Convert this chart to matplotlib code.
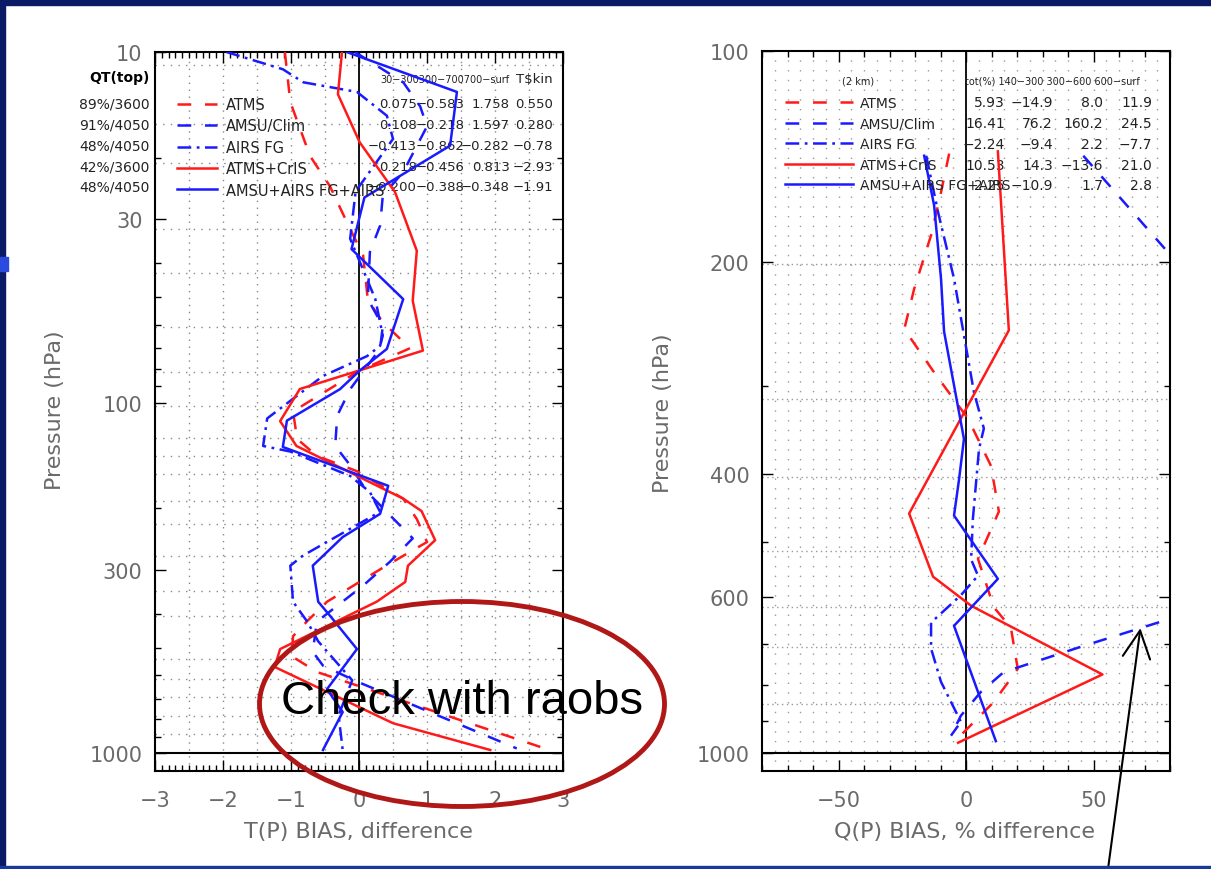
import matplotlib
matplotlib.use('Agg')
import numpy as np
import matplotlib.pyplot as plt
from matplotlib.patches import Ellipse, Rectangle
from matplotlib.ticker import MultipleLocator, LogLocator, NullFormatter

plt.rcParams['font.family'] = ['DejaVu Sans']

# ---------------- data ----------------
names = ['ATMS', 'AMSU/Clim', 'AIRS FG', 'ATMS+CrIS', 'AMSU+AIRS FG+AIRS']

# temperature bias profiles (K), pressure in hPa
t_atms_p = [10, 13.9, 19.8, 24.1, 32, 38, 51, 59, 70, 81, 106, 127, 142, 157, 188, 215, 250, 296, 370, 420, 464, 529, 587, 980]
t_atms_v = [-1.09, -1.01, -0.72, -0.43, -0.13, 0.06, 0.13, 0.35, 0.75, 0.01, -0.97, -0.91, -0.62, -0.03, 0.65, 0.85, 1.0, 0.35, -0.47, -0.76, -0.97, -0.99, -0.62, 2.8]

t_amsu_p = [10, 12.2, 14.3, 16.3, 22.0, 25.7, 31.3, 37.2, 50.7, 60.5, 70.2, 91.6, 109, 133, 151, 180, 244, 284, 333, 380, 422, 514, 563, 625, 970]
t_amsu_v = [-0.06, 0.65, 0.90, 1.0, 0.65, 0.35, 0.31, 0.16, 0.13, 0.35, 0.31, -0.13, -0.32, -0.35, -0.13, 0.12, 0.79, 0.46, 0.06, -0.32, -0.62, -0.68, -0.53, -0.03, 2.32]

t_airs_p = [10, 11.2, 12.2, 13.0, 15.2, 17.7, 25, 34.1, 50.7, 64.4, 68.9, 73.7, 84, 111, 133, 138, 162, 180, 205, 273, 292, 370, 422, 480, 620, 780, 980]
t_airs_v = [-1.95, -1.12, -0.82, -0.03, 0.41, 0.5, -0.05, -0.13, 0.24, 0.35, 0.31, 0.12, -0.53, -1.35, -1.41, -1.01, -0.13, 0.16, 0.31, -0.82, -1.01, -0.97, -0.76, -0.6, -0.1, -0.3, -0.24]

t_cris_p = [10, 13.2, 18.1, 25.1, 36.9, 51.2, 71.1, 91.5, 113, 133, 188, 204, 247, 292, 325, 370, 505, 568, 822, 980]
t_cris_v = [-0.25, -0.31, 0.01, 0.53, 0.85, 0.79, 0.94, -0.87, -1.16, -0.92, 0.65, 0.92, 1.12, 0.72, 0.68, 0.26, -1.16, -1.24, 0.5, 1.93]

t_all_p = [10, 13.0, 18.5, 26, 36.5, 50.7, 70.3, 81.1, 91.6, 112.6, 133.9, 172.8, 207.8, 242, 292, 370, 405, 505, 657, 764, 980]
t_all_v = [-0.18, 1.44, 1.34, 0.08, -0.11, 0.65, 0.41, 0.01, -0.28, -1.06, -1.12, 0.43, 0.31, -0.24, -0.68, -0.60, -0.43, -0.03, -0.47, -0.24, -0.53]

# moisture bias profiles (%), pressure in hPa
q_atms_p = [140, 159, 183, 218, 249, 287, 334, 390, 453, 529, 620, 663, 759, 846, 965]
q_atms_v = [-6.6, -9.8, -13.7, -20.3, -24.2, -12.5, 0.8, 9.8, 12.9, 4.7, 10.9, 17.6, 20.3, 10.9, -4.7]

q_amsu_p = [141, 195, 300, 420, 560, 644, 664, 706, 767, 818, 885, 945]
q_amsu_v = [46, 80, 130, 170, 140, 80, 68.4, 45, 14.8, 5.9, -2, -5.9]

q_airs_p = [141, 170, 211, 306, 345, 369, 464, 530, 559, 596, 652, 710, 792, 903, 945]
q_airs_v = [-15.6, -10.9, -4.7, 3.1, 7, 5.1, 2.7, 2, 4.7, -2, -13.7, -13.7, -9.8, -2, -5.9]

q_cris_p = [139, 250, 456, 561, 617, 773, 967]
q_cris_v = [12.5, 16.8, -22.3, -12.9, 2, 53.5, -3.1]

q_all_p = [141, 166, 211, 251, 357, 407, 459, 565, 659, 962]
q_all_v = [-16.4, -12.5, -9.8, -8.6, -0.8, -2.7, -4.7, 12.5, -4.7, 11.7]

# statistics tables
t_qt = ['89%/3600', '91%/4050', '48%/4050', '42%/3600', '48%/4050']
t_30_300 = ['0.075', '0.108', '\u22120.413', '0.218', '\u22120.200']
t_300_700 = ['\u22120.583', '\u22120.218', '\u22120.862', '\u22120.456', '\u22120.388']
t_700_surf = ['1.758', '1.597', '\u22120.282', '0.813', '\u22120.348']
t_tskin = ['0.550', '0.280', '\u22120.78', '\u22122.93', '\u22121.91']

q_tot = ['5.93', '16.41', '\u22122.24', '10.53', '2.25']
q_140_300 = ['\u221214.9', '76.2', '\u22129.4', '14.3', '\u221210.9']
q_300_600 = ['8.0', '160.2', '2.2', '\u221213.6', '1.7']
q_600_surf = ['11.9', '24.5', '\u22127.7', '21.0', '2.8']

# ---------------- styles ----------------
colors = ['#ff1a1a', '#1a1aff', '#1a1aff', '#ff1a1a', '#1a1aff']
styles = [(0, (5.5, 5.5)), (0, (5.5, 5.5)), (0, (5.5, 2.2, 1.1, 2.2)), '-', '-']
LW = 1.8
GREY = '#6a6a6a'
INK = '#222222'

W, H = 1211, 870


def box(x0, x1, y0, y1):
    return [x0 / W, 1 - y1 / H, (x1 - x0) / W, (y1 - y0) / H]


fig = plt.figure(figsize=(12.11, 8.70), dpi=100)
fig.patch.set_facecolor('white')

# slide frame
fig.patches.append(Rectangle((0, 1 - 6 / H), 1, 6 / H, transform=fig.transFigure, color='#0b1a66', zorder=0))
fig.patches.append(Rectangle((0, 0), 5 / W, 1, transform=fig.transFigure, color='#0b1a66', zorder=0))
fig.patches.append(Rectangle((0, 1 - 272 / H), 8 / W, 14 / H, transform=fig.transFigure, color='#2a4be0', zorder=0))
fig.patches.append(Rectangle((0, 0), 1, 3 / H, transform=fig.transFigure, color='#1a3a9a', zorder=0))

ax1 = fig.add_axes(box(155, 563, 53, 772))
ax2 = fig.add_axes(box(762, 1170, 52, 772))

for ax in (ax1, ax2):
    ax.set_yscale('log')
    for s in ax.spines.values():
        s.set_linewidth(1.5)
    ax.tick_params(which='both', direction='in', top=True, right=True, labelsize=15,
                   labelcolor=GREY, width=1)
    ax.tick_params(which='major', length=8)
    ax.tick_params(which='minor', length=4)
    ax.tick_params(axis='x', pad=14)
    ax.tick_params(axis='y', pad=9)
    ax.axvline(0, color='k', lw=1.3, zorder=3)
    ax.axhline(1000, color='k', lw=1.5, zorder=3)

# ---- left panel: temperature ----
ax1.set_xlim(-3, 3)
ax1.set_ylim(1125, 10)
ax1.set_yticks([10, 30, 100, 300, 1000])
ax1.set_yticklabels(['10', '30', '100', '300', '1000'])
ax1.yaxis.set_minor_locator(LogLocator(base=10, subs=np.arange(2, 10)))
ax1.yaxis.set_minor_formatter(NullFormatter())
ax1.set_xticks(np.arange(-3, 4, 1))
ax1.xaxis.set_minor_locator(MultipleLocator(0.1))

for xv in np.arange(-2.5, 2.51, 0.5):
    if xv != 0:
        ax1.axvline(xv, color='#888888', lw=1.0, ls=(0, (1, 4)), zorder=1)
for pl in [10.9, 16, 20.7, 31.9, 42.6, 60.7, 82, 102.6, 126, 142.5, 160, 191, 222, 274, 345, 407, 540, 615, 692, 785, 883]:
    ax1.axhline(pl, color='#888888', lw=1.0, ls=(0, (1, 4.5)), zorder=1)

t_series = [(t_atms_v, t_atms_p), (t_amsu_v, t_amsu_p), (t_airs_v, t_airs_p),
            (t_cris_v, t_cris_p), (t_all_v, t_all_p)]
handles = []
for (v, p), c, ls, nm in zip(t_series, colors, styles, names):
    h, = ax1.plot(v, p, color=c, ls=ls, lw=LW, label=nm, zorder=4)
    handles.append(h)

leg = ax1.legend(handles=handles, loc='upper left', bbox_to_anchor=((177 - 155) / 408, (772 - 97) / 720),
                 frameon=False, fontsize=10.5, handlelength=2.74, handletextpad=0.62,
                 labelspacing=0.44, borderpad=0, borderaxespad=0)
for t in leg.get_texts():
    t.set_color(INK)

rows_l = [(772 - y) / 720 for y in (104, 125, 146, 167, 187)]
cols_l = [(x - 155) / 408 for x in (417, 465, 510, 553)]
ax1.text((380 - 155) / 408, (772 - 79) / 720, '30\u2212300300\u2212700700\u2212surf',
         fontsize=7, transform=ax1.transAxes, va='center', ha='left', color=INK)
ax1.text(cols_l[3], (772 - 79) / 720, 'T\\$kin', fontsize=9.5,
         transform=ax1.transAxes, va='center', ha='right', color=INK)
ax1.text(-0.012, (772 - 77) / 720, 'QT(top)', fontsize=10, fontweight='bold',
         transform=ax1.transAxes, va='center', ha='right')
for i in range(5):
    ax1.text(-0.012, rows_l[i], t_qt[i], fontsize=10, transform=ax1.transAxes,
             va='center', ha='right', color=INK)
    for j, col in enumerate([t_30_300, t_300_700, t_700_surf, t_tskin]):
        ax1.text(cols_l[j], rows_l[i], col[i], fontsize=9.5, transform=ax1.transAxes,
                 va='center', ha='right', color=INK)

# ---- right panel: moisture ----
ax2.set_xlim(-80, 80)
ax2.set_ylim(1061, 100)
ax2.set_yticks([100, 200, 400, 600, 1000])
ax2.set_yticklabels(['100', '200', '400', '600', '1000'])
ax2.yaxis.set_minor_locator(LogLocator(base=10, subs=np.arange(2, 10)))
ax2.yaxis.set_minor_formatter(NullFormatter())
ax2.set_xticks([-50, 0, 50])
ax2.xaxis.set_minor_locator(MultipleLocator(10))

for xv in np.arange(-75, 76, 5):
    if xv != 0:
        ax2.axvline(xv, color='#999999', lw=1.0, ls=(0, (1, 6)), zorder=1)
for pl in [201, 313, 405, 515, 619, 706, 851]:
    ax2.axhline(pl, color='#999999', lw=1.0, ls=(0, (1, 2.5)), zorder=1)

q_series = [(q_atms_v, q_atms_p), (q_amsu_v, q_amsu_p), (q_airs_v, q_airs_p),
            (q_cris_v, q_cris_p), (q_all_v, q_all_p)]
handles = []
for (v, p), c, ls, nm in zip(q_series, colors, styles, names):
    h, = ax2.plot(v, p, color=c, ls=ls, lw=LW, label=nm, zorder=4)
    handles.append(h)

leg = ax2.legend(handles=handles, loc='upper left', bbox_to_anchor=((785 - 762) / 408, (772 - 97) / 720),
                 frameon=False, fontsize=10, handlelength=4.9, handletextpad=0.5,
                 labelspacing=0.47, borderpad=0, borderaxespad=0)
for t in leg.get_texts():
    t.set_color(INK)

rows_r = [(772 - y) / 720 for y in (103, 124, 145, 166, 186)]
cols_r = [(x - 762) / 408 for x in (1005, 1053, 1103, 1152)]
ax2.text((858 - 762) / 408, (772 - 82) / 720, '(2 km)', fontsize=7, transform=ax2.transAxes,
         va='center', ha='center', color=INK)
ax2.text((965 - 762) / 408, (772 - 82) / 720, 'tot(%) 140\u2212300 300\u2212600 600\u2212surf',
         fontsize=7, transform=ax2.transAxes, va='center', ha='left', color=INK)
for i in range(5):
    for j, col in enumerate([q_tot, q_140_300, q_300_600, q_600_surf]):
        ax2.text(cols_r[j], rows_r[i], col[i], fontsize=10, transform=ax2.transAxes,
                 va='center', ha='right', color=INK)

# axis titles
fig.text(55 / W, 1 - 410 / H, 'Pressure (hPa)', rotation=90, fontsize=16, color=GREY,
         ha='center', va='center')
fig.text(663 / W, 1 - 413 / H, 'Pressure (hPa)', rotation=90, fontsize=16, color=GREY,
         ha='center', va='center')
fig.text(358 / W, 1 - 832 / H, 'T(P) BIAS, difference', fontsize=16, color=GREY,
         ha='center', va='center')
fig.text(965 / W, 1 - 832 / H, 'Q(P) BIAS, % difference', fontsize=16, color=GREY,
         ha='center', va='center')

# annotation: ellipse + text on the left panel
fig.patches.append(Ellipse((462 / W, 1 - 705 / H), 405 / W, 205 / H, transform=fig.transFigure,
                           fill=False, ec='#b01818', lw=3.5, zorder=10))
fig.text(462 / W, 1 - 702 / H, 'Check with raobs', fontsize=34, family='Liberation Sans',
         ha='center', va='center', zorder=11)

# arrow on the right panel
ax2.annotate('', xy=(q_amsu_v[6], q_amsu_p[6]), xycoords='data',
             xytext=(1108 / W, 0.0), textcoords='figure fraction',
             arrowprops=dict(arrowstyle='->,head_length=0.9,head_width=0.45', color='black',
                             lw=1.5, shrinkA=0, shrinkB=0, mutation_scale=22),
             annotation_clip=False, zorder=12)

fig.savefig('out.png', dpi=100)
